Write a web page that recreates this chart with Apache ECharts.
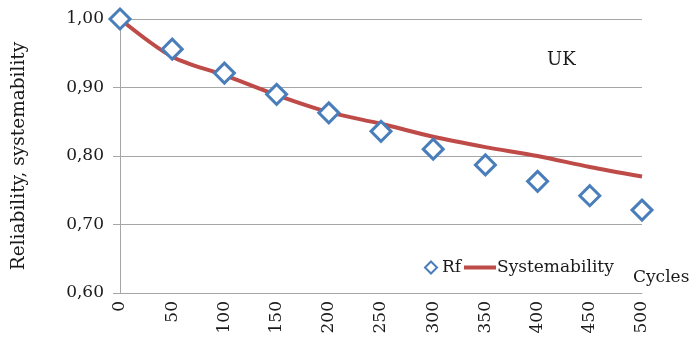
<!DOCTYPE html>
<html><head><meta charset="utf-8">
<script src="https://cdn.jsdelivr.net/npm/echarts@6/dist/echarts.min.js"></script>
<style>html,body{margin:0;padding:0;background:#fff}#c{width:691px;height:340px}</style>
</head><body><div id="c"></div>
<script>
const cycles = ['0','50','100','150','200','250','300','350','400','450','500'];
const rf = [1.000, 0.956, 0.921, 0.890, 0.863, 0.836, 0.810, 0.787, 0.763, 0.742, 0.721];
const systemability = [1.000, 0.945, 0.918, 0.889, 0.864, 0.847, 0.828, 0.813, 0.800, 0.784, 0.770];
const yTicks = [0.60, 0.70, 0.80, 0.90, 1.00];
const FONT = '"DejaVu Serif", "Liberation Serif", serif';
const TXT = '#1a1a1a';
const chart = echarts.init(document.getElementById('c'), null, {renderer:'canvas'});
chart.setOption({
  animation:false,
  grid:{left:120,right:49,top:19,bottom:47},
  legend:[
    {data:[{name:'Rf',icon:'diamond'}], left:419, top:254, itemWidth:12, itemHeight:12,
     textStyle:{fontFamily:FONT,fontSize:17,color:TXT,padding:[0,0,0,0]}},
    {data:[{name:'Systemability',icon:'rect'}], left:459, top:254, itemWidth:32, itemHeight:4,
     textStyle:{fontFamily:FONT,fontSize:17,color:TXT,padding:[0,0,0,-4]}}
  ],
  xAxis:{
    type:'category', data:cycles, boundaryGap:false,
    axisLine:{show:true,lineStyle:{color:'#a6a6a6',width:1}},
    axisTick:{show:false},
    axisLabel:{rotate:90,fontFamily:FONT,fontSize:17,color:TXT,margin:8}
  },
  yAxis:{
    type:'value', min:0.6, max:1.0, interval:0.1,
    name:'Reliability, systemability', nameLocation:'middle', nameGap:91,
    nameTextStyle:{fontFamily:FONT,fontSize:18.5,color:TXT},
    axisLine:{show:true,lineStyle:{color:'#a6a6a6',width:1}},
    axisTick:{show:true,length:7,lineStyle:{color:'#a6a6a6'}},
    splitLine:{lineStyle:{color:'#a6a6a6',width:1}},
    axisLabel:{fontFamily:FONT,fontSize:17,color:TXT,margin:16,
      formatter:v=>v.toFixed(2).replace('.',',')}
  },
  graphic:[
    {type:'text',left:547,top:51,style:{text:'UK',font:'18px "DejaVu Serif", serif',fill:TXT}},
    {type:'text',left:633,top:269,style:{text:'Cycles',font:'17px "DejaVu Serif", serif',fill:TXT}}
  ],
  series:[
    {name:'Systemability',type:'line',data:systemability,smooth:0.3,symbol:'none',
     lineStyle:{color:'#be4b48',width:4},itemStyle:{color:'#be4b48'},z:2},
    {name:'Rf',type:'scatter',data:rf,symbol:'diamond',symbolSize:20,
     itemStyle:{color:'#fff',borderColor:'#4a7ebb',borderWidth:3,opacity:1},z:3}
  ]
});
</script></body></html>
